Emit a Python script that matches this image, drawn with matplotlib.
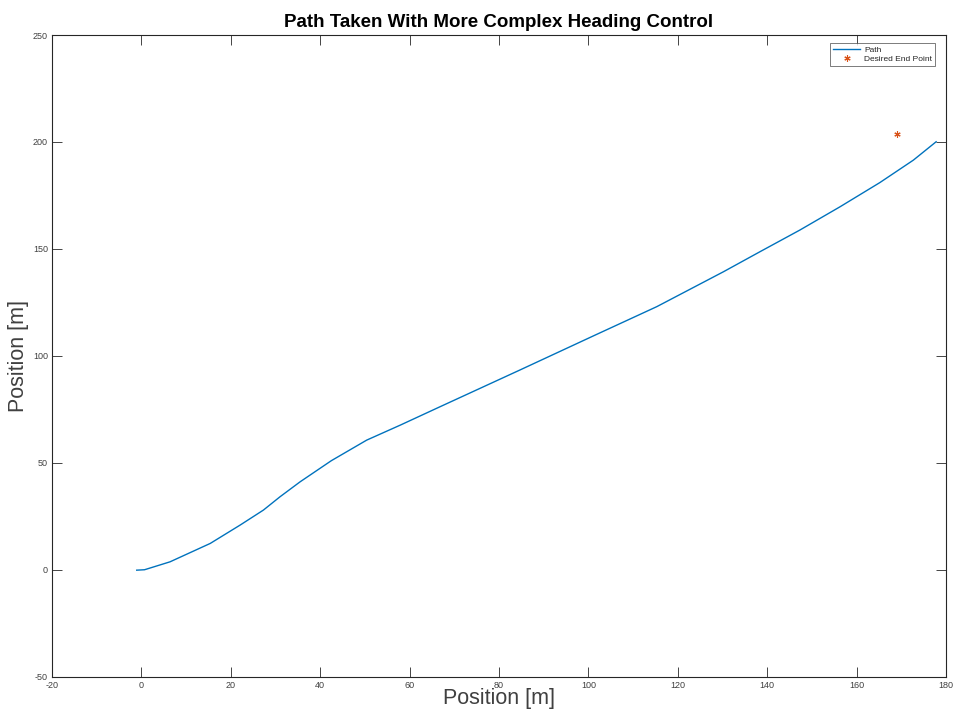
import numpy as np
import matplotlib
matplotlib.use('Agg')
from matplotlib import pyplot as plt

# path
path_x = [-1.05, 0.7, 6.4, 15.4, 22.1, 27.3, 31.0, 35.5, 42.5, 50.4, 57.9,
          66.8, 84.7, 101.5, 115.3, 130.2, 138.4, 147.3, 156.3, 165.2, 172.7, 177.8]
path_y = [-0.2, 0.0, 3.7, 12.3, 20.9, 27.9, 34.1, 41.1, 51.0, 60.6, 67.6,
          76.2, 93.4, 109.7, 123.0, 139.3, 148.7, 158.8, 169.7, 181.0, 191.5, 200.1]
end_x = [169.0]
end_y = [203.7]

x_ticks = [-20, 0, 20, 40, 60, 80, 100, 120, 140, 160, 180]
y_ticks = [-50, 0, 50, 100, 150, 200, 250]

plt.rcParams['font.family'] = ['Liberation Sans', 'DejaVu Sans']
plt.rcParams['axes.unicode_minus'] = False
dark = '#262626'
grey = '#404040'

fig = plt.figure(figsize=(9.56, 7.12), dpi=100)
ax = fig.add_axes([0.0544, 0.0496, 0.9351, 0.9012])

ax.plot(path_x, path_y, color='#0072BD', lw=1.0, label='Path')
ax.plot(end_x, end_y, ls='none', marker=(6, 2, 0), color='#D95319', ms=4.5,
        markeredgewidth=0.8, label='Desired End Point')

ax.set_xlim(-20, 180)
ax.set_ylim(-50, 250)
ax.set_xticks(x_ticks)
ax.set_yticks(y_ticks)
ax.tick_params(direction='in', top=True, right=True, length=7, width=0.6,
               labelsize=6.5, colors=dark, labelcolor=grey, pad=3)
for s in ax.spines.values():
    s.set_color(dark)
    s.set_linewidth(0.8)

ax.set_xlabel('Position [m]', fontsize=15.5, color=grey, labelpad=-1)
ax.set_ylabel('Position [m]', fontsize=15.5, color=grey, labelpad=3)
ax.set_title('Path Taken With More Complex Heading Control', fontsize=13.5,
             fontweight='bold', color='black', pad=6)

leg = ax.legend(loc='upper right', fontsize=6, frameon=True, fancybox=False,
                edgecolor=grey, borderpad=0.35, handlelength=3.2,
                labelspacing=0.15, handletextpad=0.5, borderaxespad=0,
                bbox_to_anchor=(0.9877, 0.9875))
leg.get_frame().set_linewidth(0.6)
for t in leg.get_texts():
    t.set_color(dark)

fig.savefig('out.png', dpi=100)
